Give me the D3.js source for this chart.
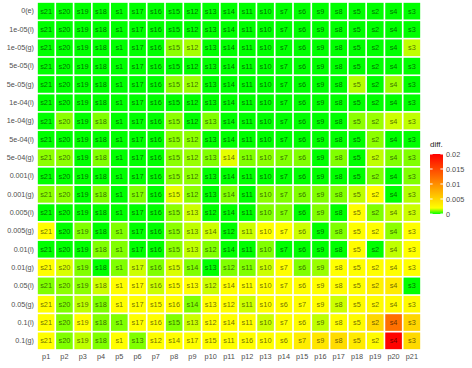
<!DOCTYPE html>
<html lang="en">

<head>
    <meta charset="UTF-8">
    <title>diff heatmap</title>
    <script src="https://d3js.org/d3.v7.min.js"></script>
    <style>
        body { margin: 0; background: #fff; }
        text { font-family: "Liberation Sans", Arial, sans-serif; }
    </style>
</head>

<body>
    <script>
        var rowLabels = ["0(e)", "1e-05(l)", "1e-05(g)", "5e-05(l)", "5e-05(g)", "1e-04(l)", "1e-04(g)",
            "5e-04(l)", "5e-04(g)", "0.001(l)", "0.001(g)", "0.005(l)", "0.005(g)", "0.01(l)", "0.01(g)",
            "0.05(l)", "0.05(g)", "0.1(l)", "0.1(g)"];

        var colLabels = ["p1", "p2", "p3", "p4", "p5", "p6", "p7", "p8", "p9", "p10", "p11",
            "p12", "p13", "p14", "p15", "p16", "p17", "p18", "p19", "p20", "p21"];

        // sample name shown in each cell, one string per row
        var baseOrder = "s21 s20 s19 s18 s1 s17 s16 s15 s12 s13 s14 s11 s10 s7 s6 s9 s8 s5 s2 s4 s3";
        var cellNames = [
            baseOrder, baseOrder, baseOrder, baseOrder, baseOrder, baseOrder, baseOrder,
            baseOrder, baseOrder, baseOrder, baseOrder,
            "s21 s20 s19 s18 s1 s17 s16 s15 s13 s12 s14 s11 s10 s7 s6 s9 s8 s5 s2 s4 s3",
            "s21 s20 s19 s18 s1 s17 s16 s15 s13 s14 s12 s11 s10 s7 s6 s9 s8 s5 s2 s4 s3",
            "s21 s20 s19 s18 s1 s17 s16 s15 s13 s12 s14 s11 s10 s7 s6 s9 s8 s5 s2 s4 s3",
            "s21 s20 s19 s18 s1 s17 s16 s15 s14 s13 s12 s11 s10 s7 s6 s9 s8 s5 s2 s4 s3",
            "s21 s20 s19 s18 s1 s17 s16 s15 s13 s12 s14 s11 s10 s7 s6 s9 s8 s5 s2 s4 s3",
            "s21 s20 s19 s18 s1 s17 s15 s16 s14 s13 s12 s11 s10 s6 s7 s9 s8 s5 s2 s4 s3",
            "s21 s20 s19 s18 s1 s17 s16 s15 s13 s12 s14 s11 s10 s7 s6 s9 s8 s5 s2 s4 s3",
            "s21 s20 s19 s18 s1 s13 s12 s14 s17 s15 s11 s16 s10 s6 s7 s9 s8 s5 s2 s4 s3"
        ];

        // diff value per cell (rows in the same order as rowLabels, columns p1..p21)
        var diffValues = [
            [0, 0, 0, 0, 0, 0, 0, 0, 0, 0, 0, 0, 0, 0, 0, 0, 0, 0, 0, 0, 0],
            [0, 0, 0, 0, 0, 0, 0, 0, 0, 0, 0, 0, 0, 0, 0, 0, 0, 0, 0, 0, 0],
            [0, 0, 0, 0, 0, 0, 0, 0.0011, 0.0013, 0, 0, 0, 0, 0, 0, 0, 0, 0, 0, 0, 0.0015],
            [0, 0, 0, 0, 0, 0, 0, 0, 0, 0, 0, 0, 0, 0, 0, 0, 0, 0, 0, 0, 0],
            [0, 0, 0, 0, 0, 0, 0, 0.0011, 0.0012, 0, 0, 0, 0, 0, 0, 0, 0, 0.0014, 0, 0.0012, 0],
            [0, 0, 0, 0, 0, 0, 0, 0, 0, 0, 0, 0, 0, 0, 0, 0, 0, 0, 0, 0, 0],
            [0, 0.0011, 0, 0.001, 0, 0, 0, 0.0011, 0, 0.001, 0, 0, 0, 0, 0, 0, 0, 0.0011, 0.0012, 0.0016, 0.0015],
            [0, 0, 0, 0, 0, 0, 0, 0.0011, 0.0011, 0, 0, 0, 0, 0, 0, 0, 0, 0, 0.0011, 0, 0],
            [0.0011, 0.0011, 0, 0.001, 0, 0, 0, 0.0011, 0.0012, 0.001, 0.0018, 0.001, 0.0011, 0.001, 0.001, 0, 0.001, 0, 0.0015, 0.001, 0.001],
            [0, 0, 0, 0, 0, 0, 0, 0.0011, 0.0011, 0, 0, 0, 0, 0, 0, 0, 0, 0, 0.001, 0, 0.001],
            [0.0011, 0.0011, 0, 0.001, 0, 0.001, 0, 0.0018, 0.0011, 0, 0.001, 0, 0.0011, 0.001, 0.001, 0.001, 0.001, 0.0015, 0.0021, 0, 0.0014],
            [0, 0, 0, 0, 0, 0, 0, 0.0011, 0.0016, 0, 0, 0, 0.001, 0.001, 0, 0.001, 0, 0.0021, 0.001, 0.0015, 0.0016],
            [0.0021, 0, 0.001, 0, 0.001, 0, 0, 0.0011, 0.0015, 0.0016, 0, 0.0016, 0.002, 0.002, 0.0016, 0, 0.001, 0.0021, 0.002, 0.0011, 0.0021],
            [0, 0, 0, 0.001, 0.001, 0, 0, 0.0011, 0.0015, 0.001, 0, 0, 0.001, 0, 0, 0, 0, 0.0022, 0, 0.0015, 0.002],
            [0.0021, 0.0017, 0.001, 0, 0.001, 0.0016, 0.001, 0.0017, 0.001, 0, 0.001, 0.001, 0.0016, 0.0021, 0.001, 0.0012, 0.002, 0.0021, 0.0021, 0.0021, 0.002],
            [0.001, 0.0011, 0.0011, 0.0016, 0.0021, 0.0021, 0.0016, 0.002, 0.002, 0.0016, 0.002, 0.002, 0.0021, 0.002, 0.0021, 0.002, 0.0021, 0.0021, 0.003, 0.0034, 0],
            [0.0021, 0.001, 0.0015, 0.001, 0.0021, 0.0021, 0.0021, 0.0021, 0.001, 0.0021, 0.0021, 0.0016, 0.0021, 0.0021, 0.0021, 0.0021, 0.0016, 0.0022, 0.0022, 0.0022, 0.0022],
            [0.0021, 0.001, 0.0021, 0.001, 0.001, 0.0021, 0.0021, 0.001, 0.0016, 0.0021, 0.0021, 0.0021, 0.0016, 0.0021, 0.0021, 0.0015, 0.0021, 0.0023, 0.0048, 0.0122, 0.005],
            [0.0021, 0.001, 0.0015, 0.001, 0.0021, 0.001, 0.0021, 0.0021, 0.0021, 0.0021, 0.0021, 0.0021, 0.0021, 0.0021, 0.0033, 0.0038, 0.0045, 0.0034, 0.0022, 0.0198, 0.0047]
        ];

        var legendTicks = [0, 0.005, 0.01, 0.015, 0.02];

        var width = 472;
        var height = 368;
        var plot = { left: 37, right: 421, top: 2, bottom: 350 };

        var svg = d3.select("body").append("svg")
            .attr("width", width)
            .attr("height", height);

        var xScale = d3.scaleBand()
            .domain(colLabels)
            .range([plot.left, plot.right])
            .paddingInner(0.09)
            .paddingOuter(0.045);

        var yScale = d3.scaleBand()
            .domain(rowLabels)
            .range([plot.top, plot.bottom])
            .paddingInner(0.09)
            .paddingOuter(0.045);

        var color = d3.scaleLinear()
            .domain([0, 0.002, 0.02])
            .range(["#00ff00", "#ffff00", "#ff0000"])
            .clamp(true);

        var cells = [];
        rowLabels.forEach(function (r, i) {
            var names = cellNames[i].split(" ");
            colLabels.forEach(function (c, j) {
                cells.push({ row: r, col: c, name: names[j], diff: diffValues[i][j] });
            });
        });

        var g = svg.append("g");

        g.selectAll("rect")
            .data(cells)
            .enter()
            .append("rect")
            .attr("x", function (d) { return xScale(d.col); })
            .attr("y", function (d) { return yScale(d.row); })
            .attr("width", xScale.bandwidth())
            .attr("height", yScale.bandwidth())
            .attr("fill", function (d) { return color(d.diff); });

        g.selectAll("text.cell")
            .data(cells)
            .enter()
            .append("text")
            .attr("class", "cell")
            .attr("x", function (d) { return xScale(d.col) + xScale.bandwidth() / 2; })
            .attr("y", function (d) { return yScale(d.row) + yScale.bandwidth() / 2; })
            .attr("dy", "0.35em")
            .attr("text-anchor", "middle")
            .attr("font-size", "7.4px")
            .attr("fill", "#000")
            .attr("fill-opacity", 0.6)
            .text(function (d) { return d.name; });

        // axes
        var xAxis = d3.axisBottom(xScale).tickSize(0).tickPadding(4);
        svg.append("g")
            .attr("transform", "translate(0," + plot.bottom + ")")
            .call(xAxis)
            .call(function (a) { a.select(".domain").remove(); })
            .selectAll("text")
            .attr("font-size", "7.3px")
            .attr("fill", "#4d4d4d");

        var yAxis = d3.axisLeft(yScale).tickSize(0).tickPadding(3);
        svg.append("g")
            .attr("transform", "translate(" + plot.left + ",0)")
            .call(yAxis)
            .call(function (a) { a.select(".domain").remove(); })
            .selectAll("text")
            .attr("font-size", "7.2px")
            .attr("fill", "#4d4d4d");

        // colour bar legend
        var legendScale = d3.scaleLinear()
            .domain([0, 0.02])
            .range([214, 154]);

        var defs = svg.append("defs");
        var grad = defs.append("linearGradient")
            .attr("id", "diffgrad")
            .attr("x1", 0).attr("y1", 1)
            .attr("x2", 0).attr("y2", 0);
        d3.range(0, 21).forEach(function (k) {
            var v = 0.02 * k / 20;
            grad.append("stop")
                .attr("offset", (k / 20 * 100) + "%")
                .attr("stop-color", color(v));
        });
        // extra stop so the short green-to-yellow part shows
        grad.insert("stop", ":nth-child(2)")
            .attr("offset", "1%")
            .attr("stop-color", color(0.0002));

        var bar = { x: 430, w: 13 };
        svg.append("rect")
            .attr("x", bar.x)
            .attr("y", legendScale(0.02))
            .attr("width", bar.w)
            .attr("height", legendScale(0) - legendScale(0.02))
            .attr("fill", "url(#diffgrad)");

        var lg = svg.append("g");
        lg.selectAll("line.l")
            .data(legendTicks)
            .enter()
            .append("line")
            .attr("x1", bar.x).attr("x2", bar.x + 2.6)
            .attr("y1", function (d) { return legendScale(d); })
            .attr("y2", function (d) { return legendScale(d); })
            .attr("stroke", "#fff");
        lg.selectAll("line.r")
            .data(legendTicks)
            .enter()
            .append("line")
            .attr("x1", bar.x + bar.w - 2.6).attr("x2", bar.x + bar.w)
            .attr("y1", function (d) { return legendScale(d); })
            .attr("y2", function (d) { return legendScale(d); })
            .attr("stroke", "#fff");
        lg.selectAll("text")
            .data(legendTicks)
            .enter()
            .append("text")
            .attr("x", bar.x + bar.w + 3)
            .attr("y", function (d) { return legendScale(d); })
            .attr("dy", "0.35em")
            .attr("font-size", "7.3px")
            .attr("fill", "#4d4d4d")
            .text(function (d) { return d3.format("")(d); });

        svg.append("text")
            .attr("x", bar.x)
            .attr("y", 147)
            .attr("font-size", "8px")
            .attr("fill", "#1a1a1a")
            .text("diff.");
    </script>
</body>

</html>
